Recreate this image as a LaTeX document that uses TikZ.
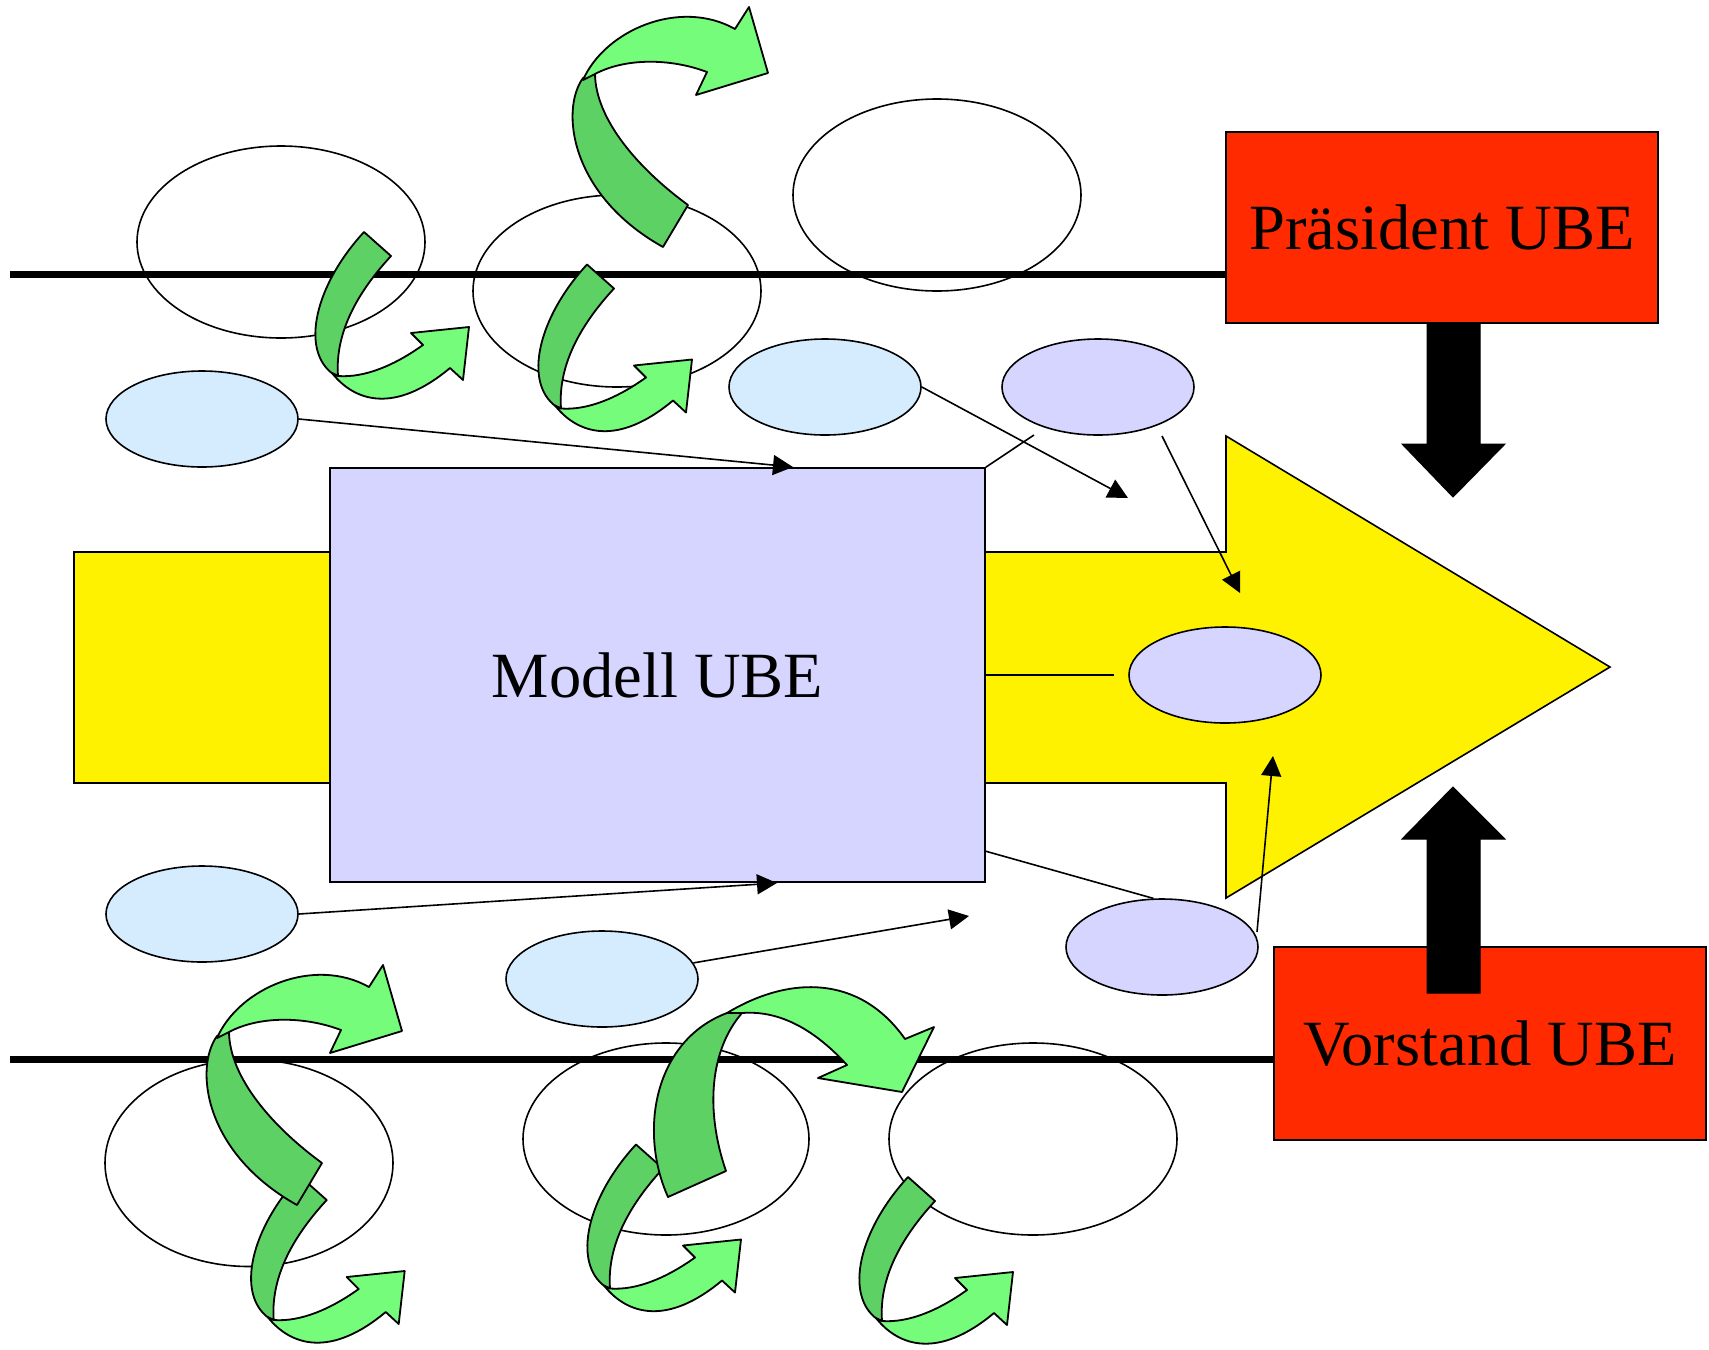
\documentclass[tikz,border=0pt]{standalone}
\usepackage{fontspec}
\setmainfont{Liberation Serif}
\usetikzlibrary{arrows.meta,shapes.geometric}
\definecolor{redbox}{HTML}{FF2A00}
\definecolor{lav}{HTML}{D5D5FF}
\definecolor{lblue}{HTML}{D5ECFF}
\definecolor{gdk}{HTML}{5ED165}
\definecolor{glt}{HTML}{74FC7A}
\newcommand\greensmall{%
 \path[gdark] (364,232) -- (391,256) .. controls (355,295) and (335,335) .. (338,376) -- (333,374) .. controls (300,350) and (315,285) .. (364,232) -- cycle;
 \path[glight] (332,373) .. controls (355,402) and (395,414) .. (450,368) -- (463,380) -- (469,327) -- (411,333) -- (423,345) .. controls (395,365) and (365,378) .. (338,376) -- cycle;}
\newcommand\greenS{%
 \path[gdark] (663,247) -- (688,205) .. controls (640,170) and (595,120) .. (595,73) -- (583,78) .. controls (560,110) and (570,195) .. (663,247) -- cycle;
 \path[glight] (583,80) .. controls (605,30) and (680,-2) .. (735,29) -- (749,7) -- (768,73) -- (696,95) -- (707,72) .. controls (670,58) and (625,58) .. (595,74) -- cycle;}
\begin{document}
\begin{tikzpicture}[x=1pt,y=-1pt,
  bigell/.style={ellipse,draw=black,line width=1.6pt,minimum width=288pt,minimum height=192pt,inner sep=0pt},
  smell/.style={ellipse,draw=black,line width=1.6pt,minimum width=192pt,minimum height=96pt,inner sep=0pt},
  blueell/.style={smell,fill=lblue},
  lavell/.style={smell,fill=lav},
  bigtext/.style={font=\fontsize{64.5}{72}\selectfont},
  redrect/.style={rectangle,draw=black,line width=1.4pt,fill=redbox,inner sep=0pt,minimum width=432pt,bigtext},
  rule/.style={line width=7.5pt},
  conn/.style={line width=1.6pt},
  arr/.style={conn,-{Triangle[length=20pt,width=20pt]}},
  gdark/.style={fill=gdk,draw=black,line width=1.8pt,line join=round},
  glight/.style={fill=glt,draw=black,line width=1.8pt,line join=round},
  blockarrow/.style={fill=black,draw=black,line width=1pt}]
\useasboundingbox (0,0) rectangle (1709,1350);
% large white ellipses
\node[bigell] (E1) at (281,242) {};
\node[bigell] (E2) at (617,291) {};
\node[bigell] (E3) at (937,195) {};
\node[bigell,minimum height=207pt] (E4) at (249,1163) {};
\node[bigell,minimum width=286pt] (E5) at (666,1139) {};
\node[bigell] (E6) at (1033,1139) {};
% red boxes
\node[redrect,minimum height=191pt] (P) at (1442,227.5) {Präsident UBE};
\node[redrect,minimum height=193pt] (V) at (1490,1043.5) {Vorstand UBE};
% black rules
\coordinate (tl) at (10,274.5);
\coordinate (bl) at (10,1059.5);
\draw[rule] (tl) -- (tl -| P.west);
\draw[rule] (bl) -- (bl -| V.west);
% yellow arrow
\path[fill=yellow,draw=black,line width=1.6pt,line join=miter]
  (74,552) -- (1226,552) -- (1226,436) -- (1610,667) -- (1226,898) -- (1226,783) -- (74,783) -- cycle;
% model box
\node[rectangle,draw=black,line width=1.6pt,fill=lav,minimum width=655pt,minimum height=414pt,inner sep=0pt,bigtext] (M) at (657.5,675) {Modell UBE};
% small ellipses
\node[blueell] (B1) at (202,419) {};
\node[blueell] (B2) at (825,387) {};
\node[blueell] (B3) at (202,914) {};
\node[blueell] (B4) at (602,979) {};
\node[lavell] (L1) at (1098,387) {};
\node[lavell] (L2) at (1225,675) {};
\node[lavell] (L3) at (1162,947) {};
% black block arrows
\path[blockarrow] (1427,323) -- (1480,323) -- (1480,444) -- (1505,444) -- (1453,497) -- (1402,444) -- (1427,444) -- cycle;
\path[blockarrow] (1427,993) -- (1480,993) -- (1480,839) -- (1505,839) -- (1453,787) -- (1402,839) -- (1427,839) -- cycle;
% connectors
\coordinate (t1) at (793,467);
\coordinate (t2) at (777,883);
\coordinate (t3) at (969,916);
\coordinate (t4) at (1128,498);
\coordinate (s5) at (1162,436);
\coordinate (t5) at (1240,593);
\coordinate (s6) at (1034,435);
\coordinate (t7) at (1114,675);
\coordinate (s8) at (985,851);
\coordinate (s9) at (1257,932);
\coordinate (t9) at (1273,756);
\draw[arr] (B1.east) -- (t1);
\draw[arr] (B3.east) -- (t2);
\draw[arr] (B4.10) -- (t3);
\draw[arr] (B2.east) -- (t4);
\draw[arr] (s5) -- (t5);
\draw[conn] (s6) -- (M.north east);
\draw[conn] (M.east) -- (t7);
\draw[conn] (s8) -- (L3.100);
\draw[arr] (s9) -- (t9);
% green curved arrows
\greensmall
\begin{scope}[shift={(223,32.5)}]\greensmall\end{scope}
\greenS
\begin{scope}[shift={(-64.3,944)}]\greensmall\end{scope}
\begin{scope}[shift={(-366,958)}]\greenS\end{scope}
\begin{scope}[shift={(272,912.5)}]\greensmall\end{scope}
\path[gdark] (668,1197) -- (726,1171) .. controls (705,1110) and (710,1050) .. (742,1013) -- (727,1013) .. controls (655,1040) and (638,1130) .. (668,1197) -- cycle;
\path[glight] (727,1013) .. controls (790,975) and (860,975) .. (905,1039) -- (934,1027) -- (902,1092) -- (818,1078) -- (847,1065) .. controls (815,1030) and (780,1010) .. (742,1013) -- cycle;
\begin{scope}[shift={(544,945)}]\greensmall\end{scope}
\end{tikzpicture}
\end{document}
